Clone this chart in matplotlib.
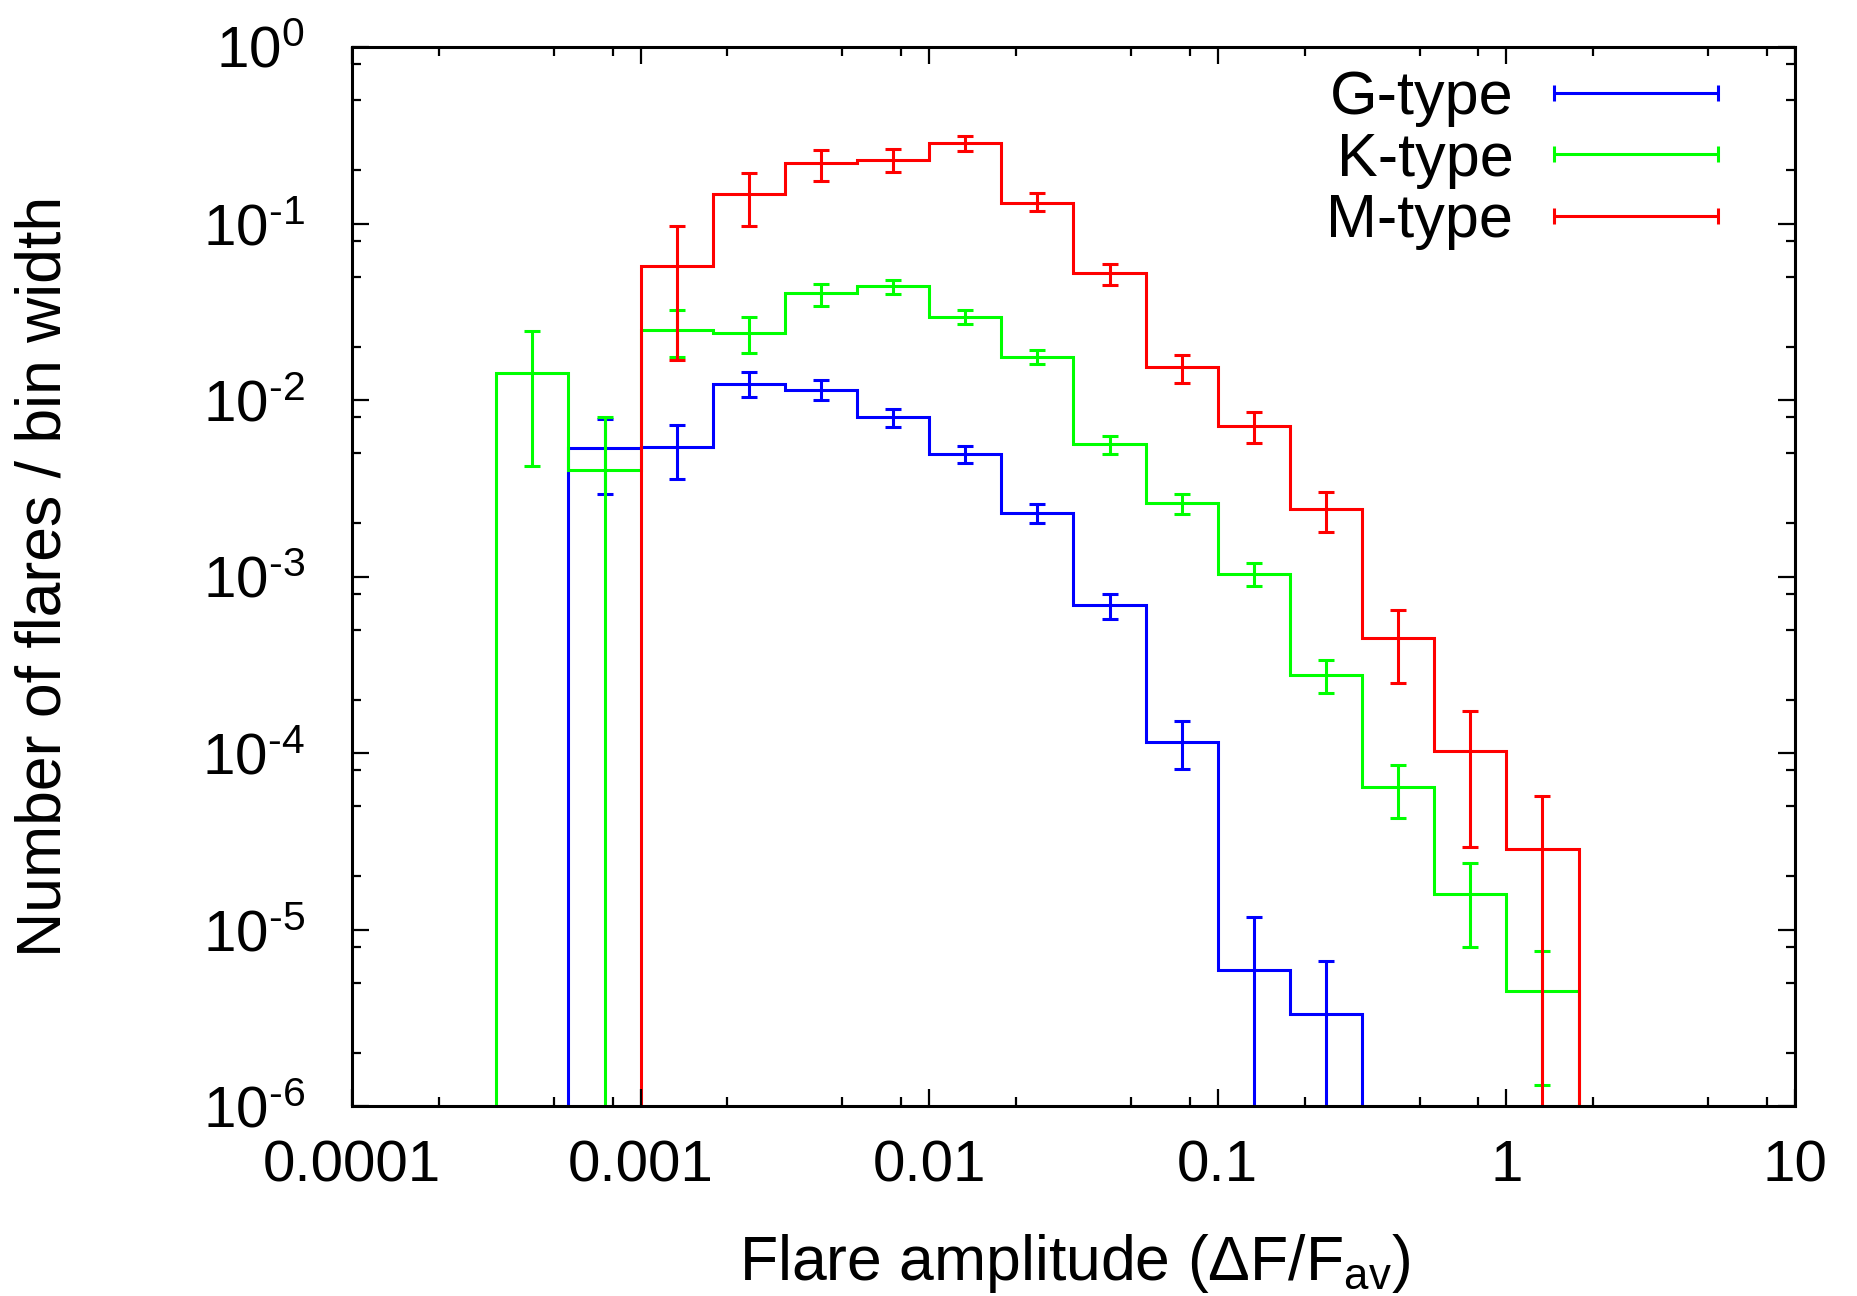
import numpy as np
import matplotlib
matplotlib.use("Agg")
import matplotlib.pyplot as plt
from matplotlib.lines import Line2D
from matplotlib.legend_handler import HandlerBase
from matplotlib.ticker import LogLocator, NullFormatter, FixedLocator, FuncFormatter
from matplotlib import font_manager

# ---------------- data ----------------
bin_edges = [0.0003162, 0.0005623, 0.001, 0.001778, 0.003162, 0.005623, 0.01,
             0.01778, 0.03162, 0.05623, 0.1, 0.1778, 0.3162, 0.5623, 1.0, 1.778]

# G-type (starts at edge index 1)
g_first = 1
g_val = [0.00535, 0.0054, 0.01235, 0.0114, 0.00806, 0.00494, 0.00229, 0.00069, 0.000116, 5.9e-6, 3.34e-6]
g_hi = [0.00776, 0.00723, 0.0145, 0.0129, 0.00891, 0.0055, 0.00257, 0.0008, 0.000151, 1.18e-5, 6.64e-6]
g_lo = [0.00295, 0.00359, 0.0104, 0.0100, 0.00707, 0.00439, 0.0020, 0.000575, 8.1e-5, 0.0, 0.0]

# K-type (starts at edge index 0)
k_first = 0
k_val = [0.0143, 0.0040, 0.0250, 0.0239, 0.0404, 0.0440, 0.0297, 0.0176, 0.00563, 0.00262,
         0.00103, 0.000277, 6.4e-5, 1.59e-5, 4.5e-6]
k_hi = [0.0245, 0.0080, 0.0325, 0.0295, 0.0454, 0.0480, 0.0322, 0.0191, 0.00627, 0.00293,
        0.00119, 0.000337, 8.5e-5, 2.37e-5, 7.6e-6]
k_lo = [0.0042, 0.0, 0.0175, 0.0185, 0.0343, 0.0398, 0.0270, 0.0160, 0.00495, 0.00226,
        0.000885, 0.000218, 4.26e-5, 7.98e-6, 1.31e-6]

# M-type (starts at edge index 2)
m_first = 2
m_val = [0.0576, 0.146, 0.220, 0.230, 0.286, 0.131, 0.0524, 0.01536, 0.00717, 0.0024,
         0.00045, 0.000102, 2.84e-5]
m_hi = [0.097, 0.193, 0.262, 0.264, 0.315, 0.148, 0.0592, 0.0180, 0.0086, 0.00303,
        0.00065, 0.000173, 5.7e-5]
m_lo = [0.0169, 0.097, 0.173, 0.195, 0.256, 0.118, 0.0446, 0.01247, 0.0057, 0.00178,
        0.000248, 2.94e-5, 0.0]

series_names = ["G-type", "K-type", "M-type"]
series_colors = ["#0000ff", "#00ff00", "#ff0000"]

x_ticks = [0.0001, 0.001, 0.01, 0.1, 1, 10]
x_tick_labels = ["0.0001", "0.001", "0.01", "0.1", "1", "10"]
y_ticks = [1e-6, 1e-5, 1e-4, 1e-3, 1e-2, 1e-1, 1e0]

# ---------------- style ----------------
names = {f.name for f in font_manager.fontManager.ttflist}
base_font = "Liberation Sans"
narrow_font = "Liberation Sans Narrow" if "Liberation Sans Narrow" in names else None

plt.rcParams["font.family"] = [base_font, "DejaVu Sans"]
plt.rcParams["mathtext.fontset"] = "custom"
plt.rcParams["mathtext.rm"] = base_font
plt.rcParams["mathtext.it"] = base_font + ":italic"
plt.rcParams["mathtext.bf"] = base_font + ":bold"

DPI = 100
fig = plt.figure(figsize=(18.58, 12.96), dpi=DPI)
ax = fig.add_axes([352 / 1858, 1 - 1106 / 1296, (1795 - 352) / 1858, (1106 - 47) / 1296])

LW = 2.2
edges = np.array(bin_edges)

def draw(first, val, hi, lo, color):
    val = np.array(val); hi = np.array(hi); lo = np.array(lo)
    e = edges[first:first + len(val) + 1]
    centers = np.sqrt(e[:-1] * e[1:])
    ax.stairs(val, e, baseline=1e-12, fill=False, color=color, lw=LW)
    lo_c = np.where(lo > 0, lo, 1e-12)
    ax.errorbar(centers, val, yerr=[val - lo_c, hi - val], fmt="none", ecolor=color,
                elinewidth=LW, capsize=6.0, capthick=LW)

draw(g_first, g_val, g_hi, g_lo, series_colors[0])
draw(k_first, k_val, k_hi, k_lo, series_colors[1])
draw(m_first, m_val, m_hi, m_lo, series_colors[2])

ax.set_xscale("log")
ax.set_yscale("log")
ax.set_xlim(1e-4, 10)
ax.set_ylim(1e-6, 1)

ax.set_xticks(x_ticks)
ax.set_xticklabels(x_tick_labels)
ax.xaxis.set_minor_locator(LogLocator(base=10, subs=[2, 5, 8], numticks=20))
ax.xaxis.set_minor_formatter(NullFormatter())

def ylab(v, pos):
    e = int(round(np.log10(v)))
    s = str(e).replace("-", "\u2010")
    return "$10^{%s}$" % s

ax.yaxis.set_major_locator(FixedLocator(y_ticks))
ax.yaxis.set_major_formatter(FuncFormatter(ylab))
ax.yaxis.set_minor_locator(LogLocator(base=10, subs=[2, 5, 8], numticks=20))
ax.yaxis.set_minor_formatter(NullFormatter())

ax.tick_params(which="both", direction="in", top=True, right=True, colors="black")
ax.tick_params(which="major", length=12.5, width=1.6, labelsize=42)
ax.tick_params(which="minor", length=6.5, width=1.6)
ax.tick_params(axis="x", which="major", pad=24)
ax.tick_params(axis="y", which="major", pad=34)
for s in ax.spines.values():
    s.set_linewidth(2.2)

# labels
if narrow_font:
    ax.set_ylabel("Number of flares / bin width", family=[narrow_font, base_font], fontsize=55, va="center")
else:
    ax.set_ylabel("Number of flares / bin width", fontsize=45, va="center")
ax.yaxis.set_label_coords((44 - 352) / 1443, 0.5)

ax.set_xlabel("Flare amplitude (ΔF/F$_{\\mathrm{av}}$)", fontsize=45, va="baseline")
ax.xaxis.set_label_coords(0.501, (1106 - 1280) / 1059)

# legend with gnuplot-like samples
class CapLineHandler(HandlerBase):
    def create_artists(self, legend, orig_handle, xdescent, ydescent, width, height, fontsize, trans):
        y = height / 2.0 - ydescent
        x0, x1 = -xdescent, width - xdescent
        c = orig_handle.get_color()
        line = Line2D([x0, x1], [y, y], color=c, lw=LW, solid_capstyle="butt")
        caps = Line2D([x0, x1], [y, y], ls="none", marker="|", markersize=11, mew=LW, color=c)
        line.set_transform(trans)
        caps.set_transform(trans)
        return [line, caps]

handles = [Line2D([], [], color=c) for c in series_colors]
leg = ax.legend(handles, series_names, loc="upper right",
                bbox_to_anchor=((1718 - 352) / 1443, (1106 - 70) / 1059),
                frameon=False, markerfirst=False, fontsize=44, handlelength=2.69,
                handletextpad=0.66, labelspacing=0.077, borderpad=0, borderaxespad=0,
                handler_map={Line2D: CapLineHandler()})

fig.savefig("out.png", dpi=DPI)
